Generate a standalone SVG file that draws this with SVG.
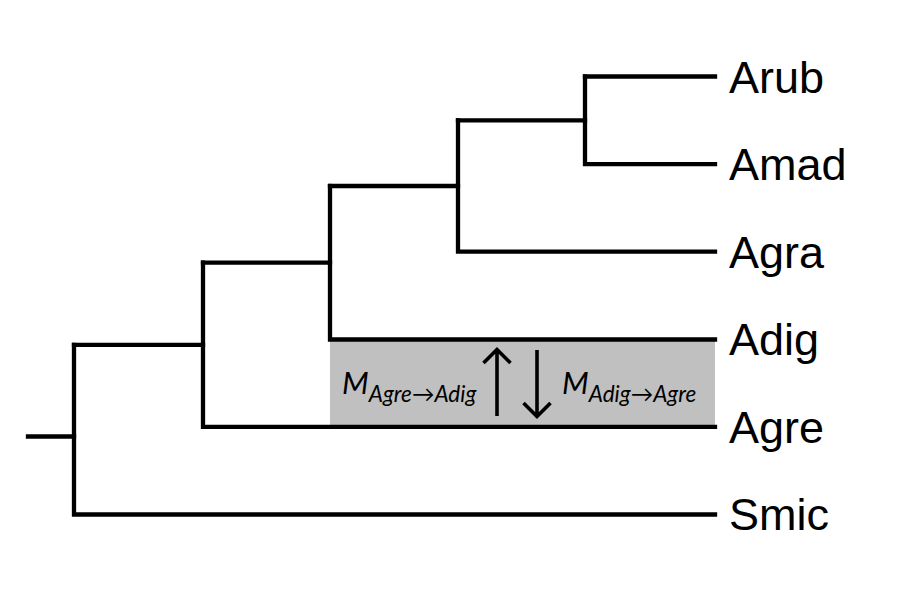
<svg xmlns="http://www.w3.org/2000/svg" width="904" height="604" viewBox="0 0 904 604">
<style>
.br{fill:none;stroke:#000;stroke-width:4.3;stroke-linecap:square;stroke-linejoin:miter}
.tip{font-family:"Liberation Sans",Arial,sans-serif;font-size:45px;fill:#000}
.m{font-family:Lato,"Open Sans",sans-serif;font-style:italic;fill:#000}
.arr{fill:none;stroke:#000;stroke-width:3.6;stroke-linecap:butt;stroke-linejoin:miter}
</style>
<rect width="904" height="604" fill="#fff"/>
<g id="migration-band">
<rect x="330" y="340" width="385" height="87" fill="#c0c0c0"/>
</g>
<g id="connectors">
<path class="br" d="M28 436.5H74"/>
<path class="br" d="M74 344.8V514.5H715"/>
<path class="br" d="M74 344.8H203V426.9H715"/>
<path class="br" d="M203 262.6V344.8"/>
<path class="br" d="M203 262.6H330V339.5H715"/>
<path class="br" d="M330 186V262.6"/>
<path class="br" d="M330 186H458V251.7H715"/>
<path class="br" d="M458 120.3V186"/>
<path class="br" d="M458 120.3H585V164.1H715"/>
<path class="br" d="M585 76.5V120.3"/>
<path class="br" d="M585 76.5H715"/>
</g>
<g id="node-Arub"><text class="tip" x="729" y="92.5">Arub</text></g>
<g id="node-Amad"><text class="tip" x="729" y="180">Amad</text></g>
<g id="node-Agra"><text class="tip" x="729" y="267.5">Agra</text></g>
<g id="node-Adig"><text class="tip" x="729" y="355.2">Adig</text></g>
<g id="node-Agre"><text class="tip" x="729" y="442.8">Agre</text></g>
<g id="node-Smic"><text class="tip" x="729" y="530.4">Smic</text></g>
<g id="migration-labels">
<text class="m" x="342" y="393.5" font-size="31">M<tspan font-size="22.5" y="402">Agre→Adig</tspan></text>
<text class="m" x="562" y="393.5" font-size="31">M<tspan font-size="22.5" y="402">Adig→Agre</tspan></text>
<path class="arr" d="M497 416V349.5M483.5 363L497 349.5L510.5 363"/>
<path class="arr" d="M537 350V416.5M523.5 403L537 416.5L550.5 403"/>
</g>
</svg>
